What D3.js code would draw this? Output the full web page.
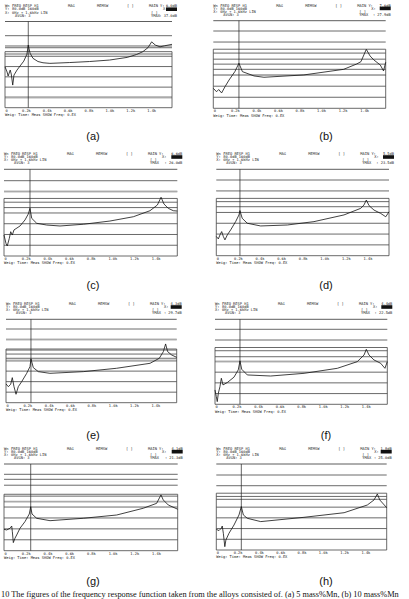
<!DOCTYPE html>
<html>
<head>
<meta charset="utf-8">
<script src="https://cdn.jsdelivr.net/npm/d3@7"></script>
<style>
body { margin: 0; background: #fff; }
svg { display: block; }
.mono { font-family: "DejaVu Sans Mono", monospace; font-size: 3.7px; fill: #1a1a1a; }
.cap { font-family: "Liberation Sans", Arial, sans-serif; font-size: 11px; fill: #111; }
.note { font-family: "Liberation Serif", "Times New Roman", serif; font-size: 8.3px; fill: #111; }
</style>
</head>
<body>
<svg id="chart" width="409" height="599"></svg>
<script>
// frequency axis (kHz)
var freqTicks = [0, 0.2, 0.4, 0.6, 0.8, 1.0, 1.2, 1.4];
var tickLabels = ["0", "0.2k", "0.4k", "0.6k", "0.8k", "1.0k", "1.2k", "1.4k"];
var gridLevels = [0, 10, 20, 30, 40, 50, 60, 70];

var panelIds = ["(a)", "(b)", "(c)", "(d)", "(e)", "(f)", "(g)", "(h)"];
var mainY = ["6.0dB", "7.6dB", "6.6dB", "5.5dB", "4.3dB", "4.4dB", "4.1dB", "1.8dB"];
var yMax = ["37.0dB", "27.9dB", "26.0dB", "23.5dB", "29.7dB", "22.5dB", "21.3dB", "25.0dB"];
var cursorFreq = [0.223, 0.238, 0.24, 0.219, 0.234, 0.232, 0.246, 0.235];
var frameLevel = [54.5, 53.5, 53.5, 53, 51, 53, 51.7, 53];
var extraLevels = [[58.3, 52.2], [44.5, 35.3], [45], [45.3], [46.2, 42.2], [44.4], [65.4], [47.3]];
var grayLevels = [[10], [30], [60], [60], [60, 40], [40], [45], []];

// measured curves: frequency (kHz) and level (dB above bottom line)
var freqA = [0, 0.02, 0.03, 0.05, 0.06, 0.074, 0.086, 0.115, 0.144, 0.18, 0.21, 0.223, 0.24, 0.268, 0.316, 0.364, 0.43, 0.62, 0.81, 1.0, 1.17, 1.26, 1.32, 1.37, 1.405, 1.44, 1.485, 1.53, 1.6];
var levelA = [39.8, 34.7, 30.8, 36.6, 32.7, 22, 31.7, 36.6, 40.5, 45.3, 52, 60.9, 53, 48, 44.9, 43.7, 43.1, 43.9, 44.9, 46.3, 48.9, 51.7, 54.4, 58.4, 64, 60.9, 59.2, 60.2, 61.6];

var freqB = [0, 0.03, 0.05, 0.077, 0.109, 0.146, 0.2, 0.238, 0.27, 0.378, 0.47, 0.84, 1.21, 1.33, 1.37, 1.42, 1.455, 1.49, 1.55, 1.58, 1.6];
var levelB = [18.1, 15, 17, 13.9, 19.6, 25.6, 33.2, 40.8, 33.2, 29.3, 28.1, 30.2, 35.3, 40.1, 42.2, 53.4, 47.4, 43.8, 39.2, 33.8, 41.7];

var freqC = [0, 0.018, 0.03, 0.049, 0.062, 0.077, 0.092, 0.148, 0.194, 0.224, 0.24, 0.256, 0.302, 0.394, 0.517, 0.732, 0.978, 1.194, 1.348, 1.416, 1.45, 1.477, 1.517, 1.563, 1.6];
var levelC = [19.5, 11.8, 9.3, 16.4, 22.6, 19.5, 24.2, 27.9, 33.5, 39, 44.3, 35, 30.4, 28.8, 27.9, 29.5, 32.5, 36.5, 42.1, 47.4, 54.6, 48.3, 44.3, 42.1, 41.8];

var freqD = [0, 0.019, 0.034, 0.05, 0.065, 0.08, 0.102, 0.133, 0.179, 0.21, 0.219, 0.24, 0.287, 0.411, 0.658, 0.905, 1.183, 1.338, 1.368, 1.39, 1.415, 1.461, 1.523, 1.57, 1.6];
var levelD = [17.8, 15.5, 19.2, 22.3, 17.8, 14.6, 19.2, 23.8, 31.5, 37.7, 41.7, 34.6, 30, 27.5, 28.4, 31.5, 37.7, 43.8, 46.9, 51.5, 46.3, 42.2, 39.1, 36, 40.6];

var freqE = [0, 0.022, 0.044, 0.059, 0.075, 0.094, 0.115, 0.147, 0.194, 0.225, 0.234, 0.256, 0.303, 0.412, 0.724, 1.037, 1.35, 1.437, 1.475, 1.496, 1.515, 1.553, 1.6];
var levelE = [17.8, 15.2, 17.5, 23.8, 15.2, 8, 15.2, 20, 27.9, 34.3, 41.6, 33.3, 29.5, 27.9, 29.5, 32.7, 37.4, 42.2, 48.5, 55.8, 48.5, 45.3, 43.1];

var freqF = [0, 0.012, 0.021, 0.031, 0.046, 0.059, 0.074, 0.114, 0.176, 0.216, 0.232, 0.248, 0.3, 0.517, 0.827, 1.136, 1.321, 1.384, 1.405, 1.43, 1.476, 1.538, 1.578, 1.6];
var levelF = [13.4, 7.2, 2.5, 10.3, 16.5, 24.3, 18.1, 20.3, 25.3, 32.1, 40.5, 32.7, 27.4, 26.4, 28.9, 33.6, 39.8, 46, 51.3, 46, 41.4, 38.3, 33.6, 39.8];

var freqG = [0, 0.025, 0.055, 0.071, 0.077, 0.086, 0.101, 0.117, 0.147, 0.193, 0.233, 0.246, 0.258, 0.301, 0.424, 0.73, 1.038, 1.283, 1.406, 1.446, 1.467, 1.513, 1.6];
var levelG = [19.6, 19, 20.5, 22.6, 17.4, 7.4, 11.4, 14.4, 20.5, 26.6, 33.6, 40.3, 33.6, 29.7, 27.5, 29.7, 32.7, 38.9, 43.4, 51.1, 46.5, 41.9, 38];

var freqH = [0, 0.025, 0.047, 0.056, 0.066, 0.08, 0.09, 0.119, 0.166, 0.213, 0.235, 0.254, 0.291, 0.417, 0.823, 1.2, 1.418, 1.481, 1.512, 1.535, 1.6];
var levelH = [19.3, 18.1, 20.3, 22.4, 15.6, 3.1, 9.3, 15.6, 23.3, 32.7, 40.5, 32.7, 29.6, 26.5, 30.5, 34.8, 42, 46.7, 52.3, 46.7, 39.5];

var curves = [
  [freqA, levelA], [freqB, levelB], [freqC, levelC], [freqD, levelD],
  [freqE, levelE], [freqF, levelF], [freqG, levelG], [freqH, levelH]
];

var captionText = "10  The figures of the frequency response function taken from the alloys consisted of. (a) 5 mass%Mn, (b) 10 mass%Mn";

// where each screen sits on the page
var layout = [
  {left: 5, right: 172, y0: 107.7, y70: 35.7, rule: 21.5, capX: 93, capY: 140},
  {left: 213.3, right: 385.7, y0: 108.3, y70: 31, rule: 20.7, capX: 326, capY: 140},
  {left: 4, right: 177.3, y0: 256, y70: 180.7, rule: 169.3, capX: 93, capY: 289},
  {left: 216.3, right: 389, y0: 255.7, y70: 180, rule: 169.3, capX: 326, capY: 289},
  {left: 6, right: 176.7, y0: 402.7, y70: 329, rule: 319.3, capX: 93, capY: 439},
  {left: 215, right: 387.3, y0: 404.3, y70: 329.3, rule: 319.3, capX: 326, capY: 439},
  {left: 4, right: 177.7, y0: 550.7, y70: 474.3, rule: 464, capX: 93, capY: 585},
  {left: 216.3, right: 386.7, y0: 550, y70: 475, rule: 464, capX: 326, capY: 585}
];

var svg = d3.select("#chart");

curves.forEach(function(c, i) {
  var L = layout[i];
  var x = d3.scaleLinear().domain([0, 1.6]).range([L.left, L.right]);
  var y = d3.scaleLinear().domain([0, 70]).range([L.y0, L.y70]);
  var g = svg.append("g");

  // header block
  var r = [L.rule - 14.2, L.rule - 11.1, L.rule - 8.0, L.rule - 4.9];
  var hdr = [
    [0, r[0], "Wn"], [7, r[0], "FREQ RESP H1"], [63, r[0], "MAG"], [92, r[0], "MEMSW"],
    [122, r[0], "[ ]"], [144, r[0], "MAIN Y:"],
    [0, r[1], "Y:"], [7, r[1], "80.0dB  160dB"], [158, r[1], "X:"],
    [0, r[2], "X:"], [7, r[2], "0Hz + 1.6kHz  LIN"], [146, r[2], "[ ]"],
    [10, r[3], "AVGN: 3"], [146, r[3], "YMAX"]
  ];
  g.selectAll(".hdr")
    .data(hdr)
    .enter()
    .append("text")
    .attr("class", "mono")
    .attr("x", function(d) { return L.left + d[0]; })
    .attr("y", function(d) { return d[1]; })
    .text(function(d) { return d[2]; });

  g.append("text").attr("class", "mono")
    .attr("x", L.right + 5).attr("y", r[0])
    .style("text-anchor", "end").text(mainY[i]);
  g.append("rect")
    .attr("x", L.right - 6).attr("y", r[1] - 3)
    .attr("width", 11).attr("height", 3.6)
    .attr("fill", "#111");
  g.append("text").attr("class", "mono")
    .attr("x", L.right + 5).attr("y", r[3])
    .style("text-anchor", "end").text(": " + yMax[i]);

  g.append("line")
    .attr("x1", L.left).attr("x2", L.right)
    .attr("y1", L.rule).attr("y2", L.rule)
    .attr("stroke", "#333").attr("stroke-width", 0.8);

  // horizontal lines
  var levels = gridLevels.concat(extraLevels[i], grayLevels[i], [frameLevel[i]]);
  g.selectAll(".hline")
    .data(levels)
    .enter()
    .append("line")
    .attr("x1", L.left).attr("x2", L.right)
    .attr("y1", function(d) { return y(d); })
    .attr("y2", function(d) { return y(d); })
    .attr("stroke", function(d) { return grayLevels[i].indexOf(d) >= 0 ? "#aaa" : "#444"; })
    .attr("stroke-width", function(d) { return grayLevels[i].indexOf(d) >= 0 ? 1.6 : 0.8; });

  // frame sides
  g.selectAll(".vline")
    .data([0, 1.6])
    .enter()
    .append("line")
    .attr("x1", function(d) { return x(d); })
    .attr("x2", function(d) { return x(d); })
    .attr("y1", y(frameLevel[i])).attr("y2", y(0))
    .attr("stroke", "#444").attr("stroke-width", 0.8);

  // cursor
  g.append("line")
    .attr("x1", x(cursorFreq[i])).attr("x2", x(cursorFreq[i]))
    .attr("y1", L.rule).attr("y2", y(0))
    .attr("stroke", "#222").attr("stroke-width", 0.7);

  // response curve
  var pts = d3.zip(c[0], c[1]);
  g.append("path")
    .datum(pts)
    .attr("fill", "none")
    .attr("stroke", "#111")
    .attr("stroke-width", 0.8)
    .attr("d", d3.line()
      .x(function(d) { return x(d[0]); })
      .y(function(d) { return y(d[1]); }));

  // frequency axis
  var ax = g.append("g")
    .attr("transform", "translate(0," + y(0) + ")")
    .call(d3.axisBottom(x)
      .tickValues(freqTicks)
      .tickFormat(function(d, k) { return tickLabels[k]; })
      .tickSize(0)
      .tickPadding(1.2));
  ax.select(".domain").remove();
  ax.selectAll("text")
    .attr("class", "mono")
    .attr("font-family", null).attr("font-size", null)
    .style("text-anchor", function(d) { return d === 0 ? "start" : "middle"; });

  g.append("text").attr("class", "mono")
    .attr("x", L.left).attr("y", y(0) + 8.4)
    .text("Weig:  Time: Meas   SHOW Freq: 0.EX");

  g.append("text").attr("class", "cap")
    .attr("x", L.capX).attr("y", L.capY)
    .style("text-anchor", "middle")
    .text(panelIds[i]);
});

svg.append("text").attr("class", "note")
  .attr("x", 1).attr("y", 597)
  .text(captionText);
</script>
</body>
</html>
